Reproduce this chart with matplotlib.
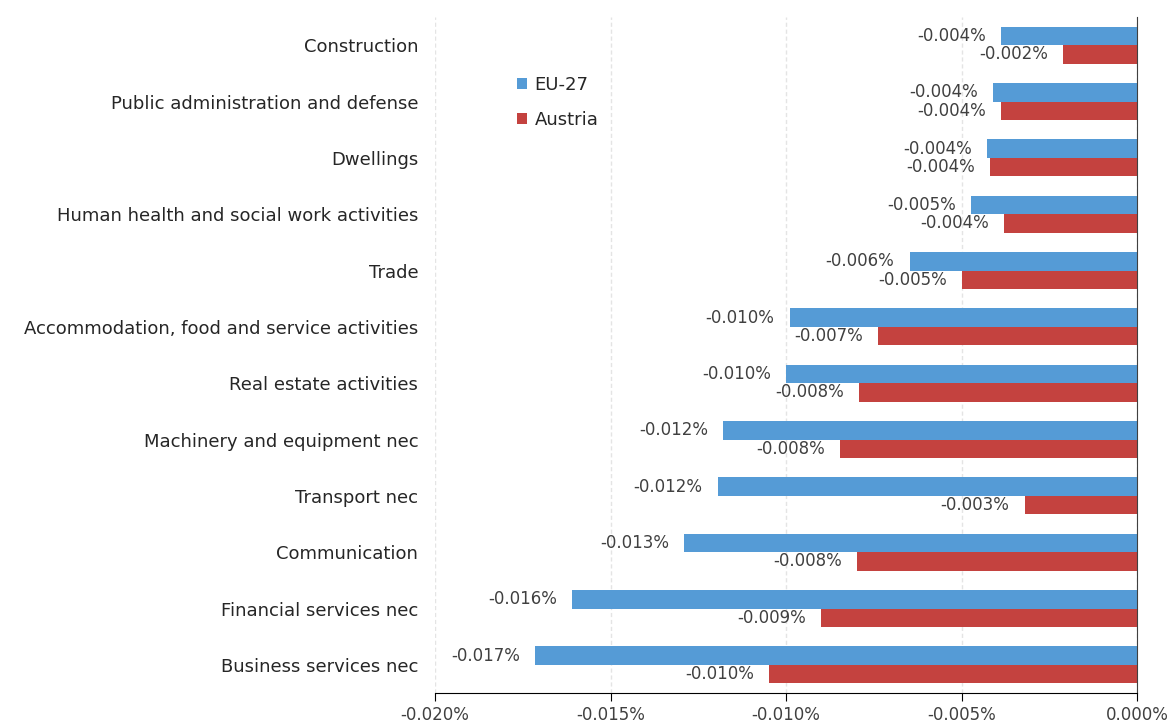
import numpy as np
import matplotlib
matplotlib.use("Agg")
import matplotlib.pyplot as plt
from matplotlib.ticker import FuncFormatter

categories = [
    "Construction",
    "Public administration and defense",
    "Dwellings",
    "Human health and social work activities",
    "Trade",
    "Accommodation, food and service activities",
    "Real estate activities",
    "Machinery and equipment nec",
    "Transport nec",
    "Communication",
    "Financial services nec",
    "Business services nec",
]
# values in percent
eu27 = [-0.00387, -0.0041, -0.00427, -0.00473, -0.00648, -0.00989,
        -0.0100, -0.01179, -0.01194, -0.0129, -0.0161, -0.01715]
austria = [-0.0021, -0.00387, -0.00419, -0.00379, -0.00499, -0.00738,
           -0.00792, -0.00846, -0.0032, -0.00798, -0.0090, -0.01048]

plt.rcParams['font.family'] = ['DejaVu Sans']

fig = plt.figure(figsize=(11.71, 7.24), dpi=100)
ax = fig.add_axes([0.3715, 0.0428, 0.5995, 0.9337])

y = np.arange(len(categories))
h = 0.33
b1 = ax.barh(y - h / 2, eu27, height=h, color="#559BD6", label="EU-27")
b2 = ax.barh(y + h / 2, austria, height=h, color="#C4423F", label="Austria")

fmt = lambda v: f"{v:.3f}%"
ax.bar_label(b1, labels=[fmt(v) for v in eu27], padding=11, fontsize=12, color="#404040")
ax.bar_label(b2, labels=[fmt(v) for v in austria], padding=11, fontsize=12, color="#404040")

ax.set_ylim(len(categories) - 0.5, -0.5)
ax.set_xlim(-0.020, 0.0)
ax.set_xticks([-0.020, -0.015, -0.010, -0.005, 0.0])
ax.xaxis.set_major_formatter(FuncFormatter(lambda v, p: f"{v:.3f}%"))
ax.set_yticks(y)
ax.set_yticklabels(categories, fontsize=13, color="#262626")
ax.tick_params(axis="y", length=0, pad=12)
ax.tick_params(axis="x", labelsize=12, colors="#404040", length=6, direction="out")
ax.tick_params(axis="x", color="black")

ax.grid(axis="x", color="#E4E4E4", linestyle=(0, (3, 2)), linewidth=1)
ax.set_axisbelow(True)
for s in ["top", "left"]:
    ax.spines[s].set_visible(False)
ax.spines["bottom"].set_color("black")
ax.spines["right"].set_color("#404040")

ax.legend(loc="upper left", bbox_to_anchor=(0.094, 0.937), frameon=False, fontsize=13,
          handlelength=0.55, handleheight=0.55, handletextpad=0.4, labelspacing=0.95,
          labelcolor="#262626")

fig.savefig("out.png", dpi=100)
